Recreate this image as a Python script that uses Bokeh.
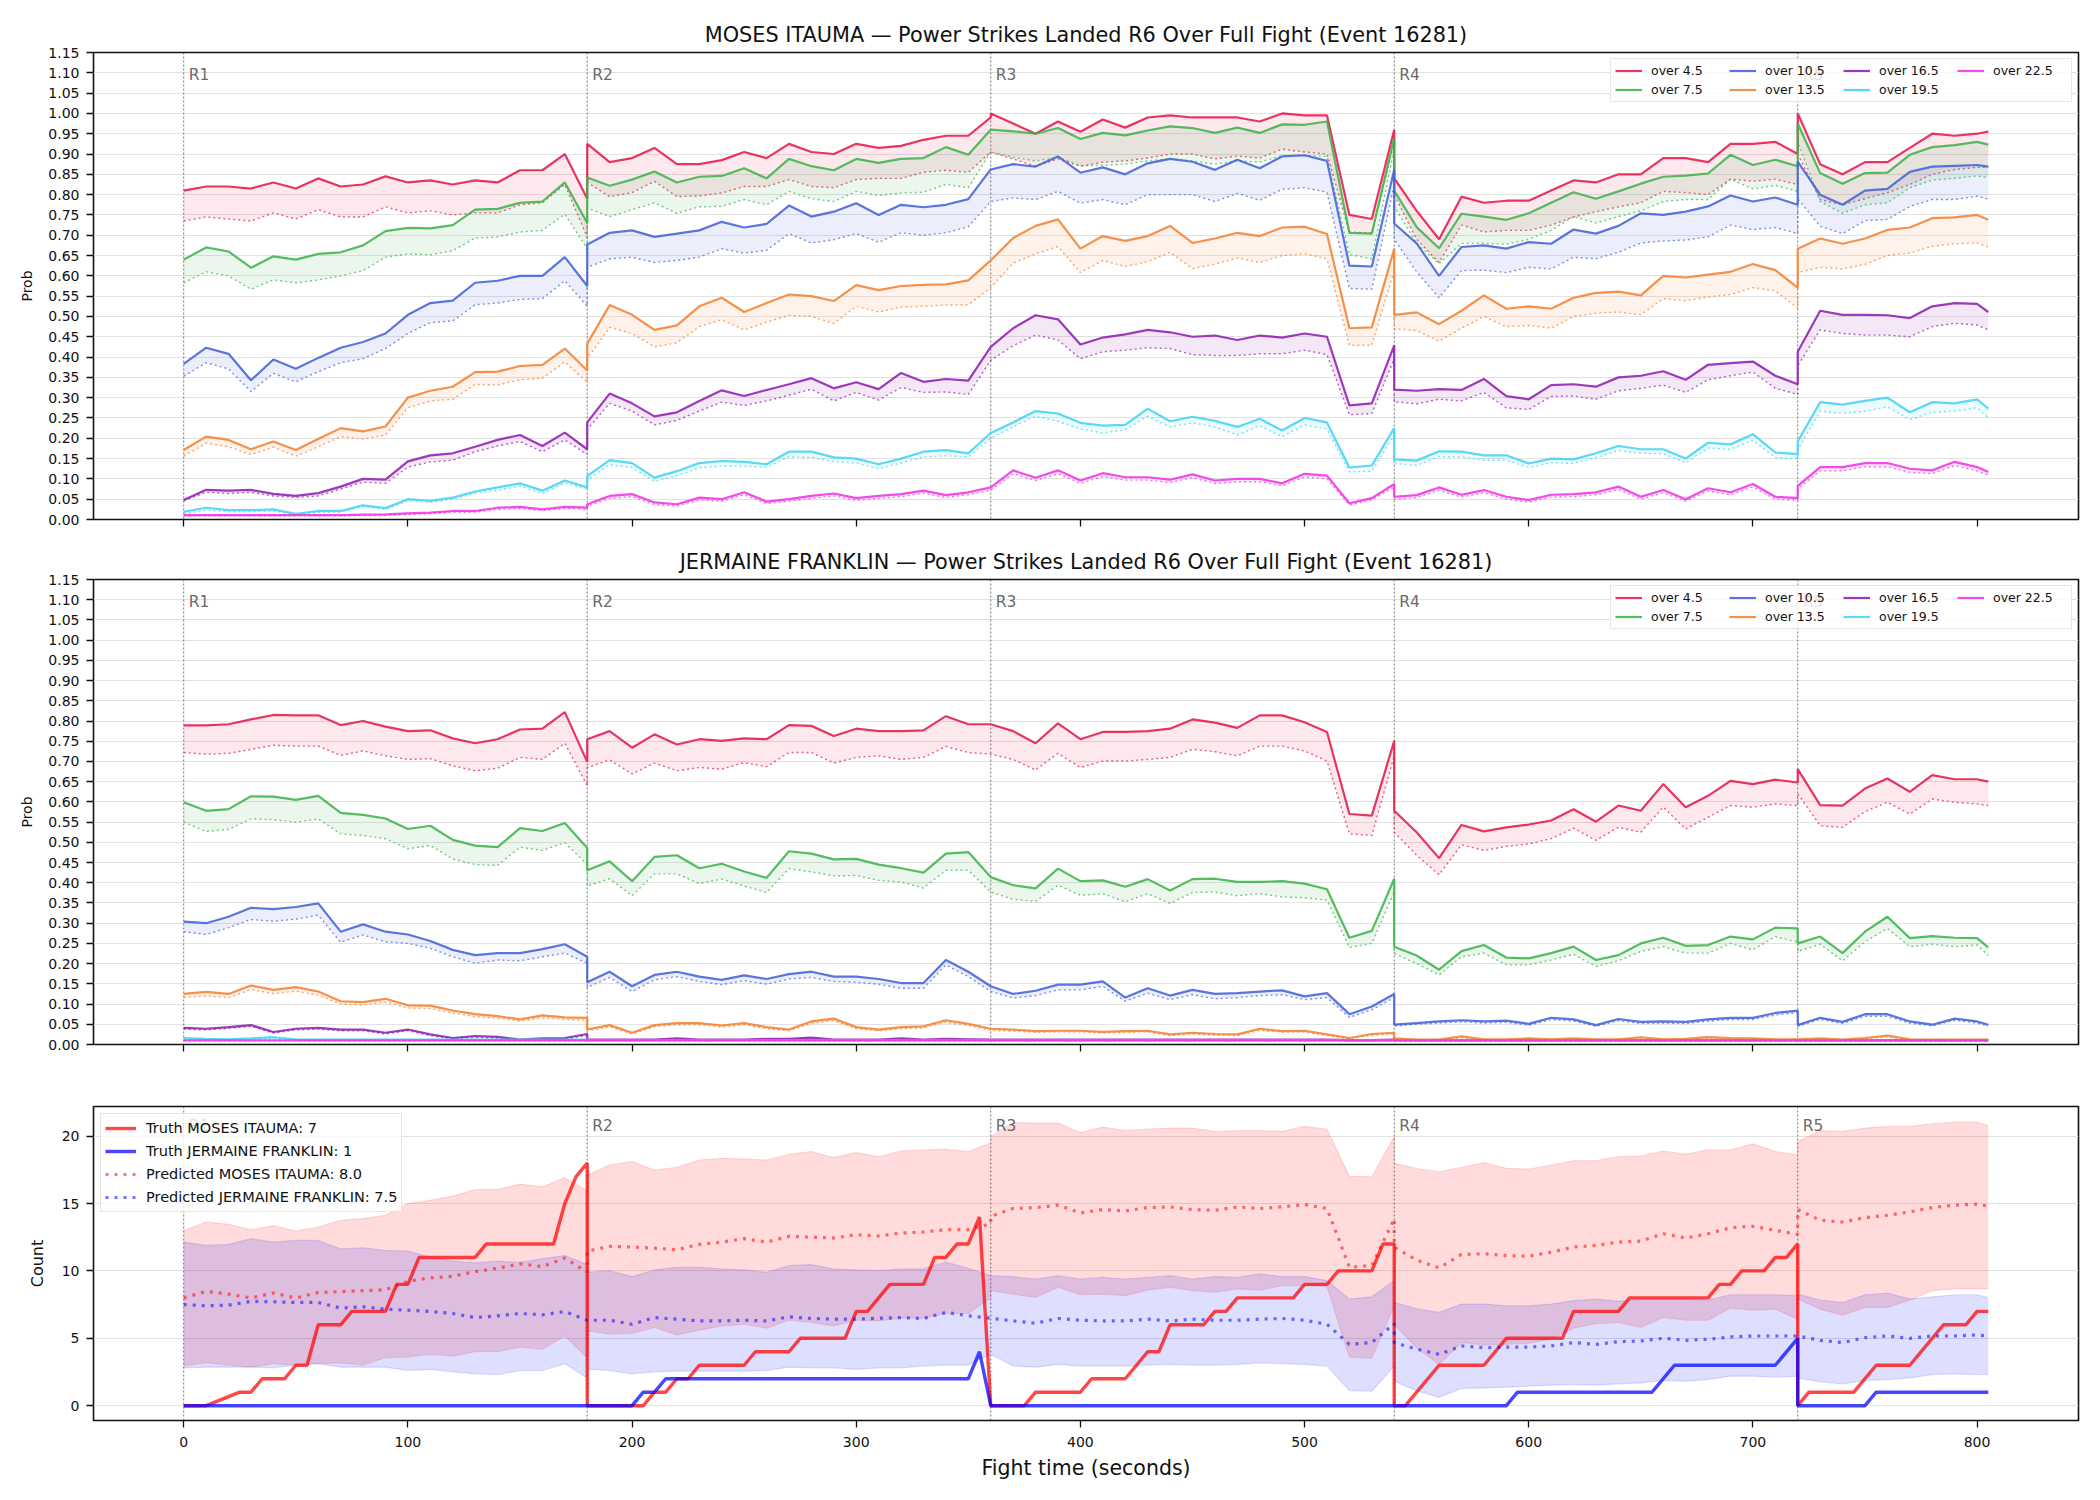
from bokeh.plotting import figure
from bokeh.layouts import column
from bokeh.models import (Range1d, FixedTicker, NumeralTickFormatter, Span, Label,
                          Legend, LegendItem)
from bokeh.embed import file_html
from bokeh.resources import INLINE

FONT = "DejaVu Sans"

# Sample times in seconds; a round boundary appears twice (end of one round, start of the next)
TIME = [0, 10, 20, 30, 40, 50, 60, 70, 80, 90, 100, 110, 120, 130, 140, 150, 160, 170, 180,
        180, 190, 200, 210, 220, 230, 240, 250, 260, 270, 280, 290, 300, 310, 320, 330, 340, 350, 360,
        360, 370, 380, 390, 400, 410, 420, 430, 440, 450, 460, 470, 480, 490, 500, 510, 520, 530, 540,
        540, 550, 560, 570, 580, 590, 600, 610, 620, 630, 640, 650, 660, 670, 680, 690, 700, 710, 720,
        720, 730, 740, 750, 760, 770, 780, 790, 800, 805]

ROUND_STARTS = [0, 180, 360, 540, 720]
ROUND_NAMES = ["R1", "R2", "R3", "R4", "R5"]
THRESHOLDS = ["over 4.5", "over 7.5", "over 10.5", "over 13.5", "over 16.5", "over 19.5", "over 22.5"]
COLORS = ["#e6194b", "#3cb44b", "#4363d8", "#f58231", "#911eb4", "#42d4f4", "#f032e6"]
TIME_TICKS = [0, 100, 200, 300, 400, 500, 600, 700, 800]
PROB_TICKS = [0.00, 0.05, 0.10, 0.15, 0.20, 0.25, 0.30, 0.35, 0.40, 0.45, 0.50, 0.55,
              0.60, 0.65, 0.70, 0.75, 0.80, 0.85, 0.90, 0.95, 1.00, 1.05, 1.10, 1.15]
COUNT_TICKS = [0, 5, 10, 15, 20]

# ---------------- MOSES ITAUMA: live (solid) and pre-fight (dotted) probabilities ----------------
ita_45 = [.81, .82, .82, .815, .83, .815, .84, .82, .825, .845, .83, .835, .825, .835, .83, .86, .86, .90, .79,
          .925, .88, .89, .915, .875, .875, .885, .905, .89, .925, .905, .90, .925, .915, .92, .935, .945, .945, .99,
          1.0, .975, .95, .98, .955, .985, .965, .99, .995, .99, .99, .99, .98, 1.0, .995, .995, .75, .74, .96,
          .84, .76, .69, .795, .78, .785, .785, .81, .835, .83, .85, .85, .89, .89, .88, .925, .925, .93, .90,
          1.0, .875, .85, .88, .88, .915, .95, .945, .95, .955]
ita_45p = [.735, .745, .74, .735, .755, .74, .763, .745, .745, .77, .755, .76, .75, .755, .755, .775, .78, .825, .695,
           .83, .795, .805, .833, .795, .797, .804, .82, .82, .837, .82, .817, .837, .84, .84, .855, .86, .855, .905,
           .905, .888, .87, .888, .87, .88, .883, .89, .90, .90, .888, .895, .89, .912, .905, .90, .708, .705, .93,
           .80, .69, .633, .725, .708, .712, .712, .725, .745, .758, .77, .78, .808, .805, .80, .838, .833, .838, .825,
           .90, .788, .775, .79, .805, .825, .85, .862, .867, .867]
ita_75 = [.64, .67, .66, .62, .648, .64, .654, .658, .675, .71, .718, .717, .725, .763, .765, .78, .783, .83, .73,
          .842, .822, .837, .857, .83, .844, .846, .865, .84, .888, .87, .86, .888, .878, .888, .89, .917, .898, .96,
          .96, .956, .95, .964, .937, .952, .946, .958, .968, .964, .952, .965, .952, .973, .972, .98, .706, .704, .94,
          .81, .72, .668, .753, .746, .738, .754, .78, .806, .79, .808, .827, .844, .847, .852, .898, .873, .886, .87,
          .975, .853, .827, .853, .854, .898, .917, .922, .93, .923]
ita_75p = [.583, .61, .60, .567, .59, .583, .59, .60, .613, .646, .654, .652, .662, .693, .696, .708, .712, .752, .667,
           .767, .746, .763, .78, .754, .77, .771, .788, .775, .808, .79, .783, .808, .798, .804, .806, .825, .817, .905,
           .905, .892, .883, .892, .871, .872, .875, .883, .888, .883, .875, .883, .88, .896, .896, .894, .652, .642, .912,
           .77, .68, .63, .68, .68, .678, .69, .712, .746, .73, .746, .76, .783, .788, .788, .838, .814, .823, .808,
           .93, .783, .754, .775, .78, .817, .836, .84, .846, .842]
ita_105 = [.383, .423, .408, .343, .394, .371, .398, .423, .437, .458, .504, .533, .539, .583, .588, .60, .60, .646, .575,
           .677, .706, .712, .696, .704, .712, .733, .719, .728, .773, .746, .758, .779, .75, .775, .769, .775, .789, .862,
           .862, .875, .869, .894, .854, .867, .85, .877, .888, .881, .861, .886, .865, .894, .897, .883, .625, .623, .862,
           .729, .68, .60, .671, .675, .667, .683, .679, .714, .704, .723, .754, .75, .758, .771, .798, .783, .793, .775,
           .881, .80, .775, .81, .814, .856, .869, .871, .873, .869]
ita_105p = [.353, .386, .371, .315, .36, .339, .364, .386, .396, .421, .458, .485, .489, .529, .533, .542, .544, .588, .525,
            .621, .642, .646, .633, .638, .646, .667, .656, .663, .704, .681, .689, .704, .683, .706, .70, .706, .721, .783,
            .783, .792, .788, .808, .779, .788, .775, .80, .80, .80, .783, .803, .786, .813, .817, .806, .569, .567, .825,
            .69, .61, .546, .613, .614, .608, .621, .617, .646, .642, .658, .681, .686, .688, .696, .725, .714, .719, .704,
            .79, .722, .704, .736, .739, .771, .788, .788, .796, .789]
ita_135 = [.171, .204, .196, .173, .192, .171, .198, .225, .217, .229, .30, .317, .327, .363, .364, .378, .381, .421, .367,
           .433, .528, .504, .467, .478, .525, .546, .511, .533, .554, .55, .538, .577, .565, .575, .578, .579, .589, .638,
           .638, .693, .723, .739, .667, .698, .686, .698, .723, .681, .692, .706, .698, .719, .721, .703, .471, .473, .667,
           .504, .51, .481, .514, .552, .519, .525, .519, .546, .558, .561, .552, .60, .596, .603, .61, .629, .614, .571,
           .667, .692, .679, .692, .713, .719, .742, .744, .75, .738]
ita_135p = [.156, .188, .179, .16, .178, .156, .179, .204, .198, .208, .275, .292, .296, .333, .331, .344, .348, .388, .338,
            .396, .473, .458, .425, .435, .475, .492, .467, .486, .503, .50, .483, .525, .511, .523, .525, .528, .529, .571,
            .571, .631, .654, .672, .608, .638, .623, .635, .658, .618, .629, .644, .633, .65, .654, .642, .429, .429, .613,
            .47, .465, .439, .471, .50, .475, .478, .471, .50, .508, .511, .504, .544, .539, .548, .554, .571, .563, .521,
            .608, .621, .617, .628, .65, .656, .673, .679, .681, .671]
ita_165 = [.048, .073, .071, .073, .063, .058, .065, .081, .10, .098, .143, .158, .163, .179, .196, .208, .181, .214, .173,
           .239, .31, .286, .254, .264, .292, .318, .304, .319, .333, .348, .323, .338, .321, .361, .339, .346, .342, .425,
           .425, .471, .503, .493, .431, .448, .456, .467, .461, .45, .453, .442, .453, .448, .458, .45, .281, .286, .429,
           .32, .317, .321, .319, .346, .304, .296, .331, .333, .327, .35, .354, .365, .344, .381, .385, .389, .354, .333,
           .413, .514, .504, .504, .503, .496, .525, .533, .531, .511]
ita_165p = [.046, .067, .064, .067, .058, .054, .058, .075, .092, .089, .129, .142, .146, .167, .181, .192, .167, .196, .16,
            .222, .286, .267, .233, .244, .267, .289, .281, .292, .306, .321, .292, .313, .294, .325, .313, .314, .308, .392,
            .392, .428, .454, .442, .396, .413, .417, .423, .421, .406, .404, .404, .408, .408, .417, .406, .258, .261, .396,
            .29, .285, .296, .292, .313, .275, .271, .303, .304, .296, .317, .323, .331, .313, .344, .354, .363, .323, .308,
            .379, .467, .458, .454, .454, .45, .475, .483, .479, .467]
ita_195 = [.019, .029, .023, .023, .025, .014, .021, .021, .035, .028, .05, .046, .054, .069, .079, .089, .071, .096, .079,
           .107, .146, .139, .103, .119, .139, .144, .142, .136, .167, .167, .153, .15, .136, .15, .167, .171, .163, .213,
           .213, .239, .267, .261, .238, .231, .233, .273, .242, .253, .243, .228, .248, .219, .25, .239, .128, .133, .225,
           .148, .145, .168, .167, .158, .158, .138, .15, .148, .163, .181, .173, .173, .15, .189, .185, .21, .165, .161,
           .192, .289, .283, .292, .30, .264, .289, .286, .296, .273]
ita_195p = [.014, .023, .019, .019, .021, .0125, .018, .018, .032, .025, .046, .042, .05, .064, .072, .082, .064, .09, .075,
            .098, .135, .128, .094, .108, .127, .132, .131, .129, .154, .153, .142, .139, .125, .139, .154, .157, .154, .20,
            .20, .228, .254, .242, .223, .213, .221, .254, .228, .238, .228, .208, .231, .204, .233, .223, .117, .119, .208,
            .138, .133, .155, .154, .146, .146, .128, .14, .138, .152, .17, .163, .162, .14, .176, .173, .195, .152, .15,
            .171, .267, .261, .267, .277, .246, .264, .267, .275, .25]
ita_225 = [.011, .011, .011, .011, .011, .011, .011, .011, .012, .0125, .015, .017, .021, .021, .029, .031, .025, .031, .029,
           .0375, .058, .0625, .042, .0375, .054, .05, .067, .044, .05, .058, .064, .0525, .058, .0625, .071, .06, .067, .079,
           .079, .121, .103, .121, .096, .114, .104, .104, .098, .111, .096, .10, .10, .089, .1125, .108, .04, .0525, .0875,
           .056, .06, .079, .061, .0725, .056, .048, .061, .0625, .067, .081, .056, .0725, .05, .077, .067, .0875, .056, .0525,
           .083, .129, .129, .139, .139, .125, .121, .142, .129, .117]
ita_225p = [.009, .009, .009, .009, .009, .009, .009, .009, .01, .01, .012, .014, .018, .018, .025, .027, .022, .027, .025,
            .033, .052, .056, .037, .033, .048, .045, .061, .039, .045, .052, .058, .047, .052, .056, .065, .054, .061, .072,
            .072, .113, .096, .113, .089, .106, .097, .097, .091, .103, .089, .093, .093, .083, .105, .10, .036, .048, .08,
            .05, .054, .072, .055, .066, .05, .043, .055, .056, .061, .074, .05, .066, .045, .07, .061, .08, .05, .047,
            .076, .12, .12, .13, .13, .116, .113, .133, .12, .109]

# ---------------- JERMAINE FRANKLIN: live (solid) and pre-fight (dotted) probabilities ----------------
fra_45 = [.789, .789, .792, .804, .815, .814, .814, .79, .80, .786, .775, .777, .757, .745, .755, .779, .781, .822, .699,
          .755, .775, .734, .767, .742, .755, .751, .757, .755, .79, .788, .763, .781, .775, .775, .777, .812, .792, .792,
          .792, .775, .745, .794, .755, .773, .773, .775, .781, .804, .796, .783, .814, .814, .797, .773, .57, .566, .751,
          .578, .525, .461, .543, .527, .537, .544, .554, .582, .551, .591, .578, .644, .587, .615, .652, .644, .655, .648,
          .681, .592, .591, .633, .658, .625, .666, .656, .656, .65]
fra_45p = [.722, .718, .72, .73, .74, .738, .738, .715, .726, .714, .705, .707, .689, .677, .683, .71, .705, .745, .64,
           .685, .704, .669, .696, .677, .685, .681, .697, .687, .722, .722, .696, .71, .714, .705, .71, .737, .722, .718,
           .718, .705, .679, .72, .685, .701, .701, .705, .71, .73, .724, .714, .738, .738, .726, .701, .521, .517, .714,
           .525, .468, .42, .494, .48, .49, .496, .509, .535, .505, .537, .525, .587, .533, .562, .591, .587, .595, .591,
           .62, .541, .537, .576, .599, .57, .607, .599, .595, .591]
fra_75 = [.599, .578, .582, .614, .613, .605, .615, .573, .568, .559, .533, .541, .506, .492, .488, .535, .528, .548, .486,
          .431, .453, .404, .464, .468, .436, .447, .428, .412, .478, .472, .458, .459, .445, .436, .425, .472, .476, .414,
          .414, .394, .386, .435, .404, .406, .39, .409, .381, .409, .41, .402, .402, .404, .398, .384, .264, .281, .41,
          .242, .22, .185, .231, .246, .215, .213, .226, .242, .209, .221, .25, .264, .244, .246, .267, .26, .289, .287,
          .25, .267, .226, .279, .316, .263, .268, .264, .263, .24]
fra_75p = [.55, .527, .532, .558, .556, .55, .558, .521, .517, .509, .484, .492, .459, .445, .443, .488, .48, .499, .445,
           .392, .41, .368, .422, .422, .398, .409, .392, .376, .435, .427, .417, .418, .406, .402, .387, .431, .431, .377,
           .377, .359, .354, .394, .369, .373, .353, .373, .349, .376, .377, .368, .373, .365, .363, .357, .24, .25, .377,
           .225, .2, .172, .217, .226, .197, .197, .209, .223, .193, .207, .23, .242, .226, .226, .25, .234, .267, .253,
           .23, .248, .207, .254, .287, .242, .248, .242, .246, .22]
fra_105 = [.304, .30, .316, .338, .335, .34, .349, .279, .297, .279, .272, .256, .234, .221, .226, .226, .236, .248, .217,
           .154, .18, .144, .172, .18, .168, .16, .171, .162, .174, .18, .168, .168, .162, .152, .152, .209, .18, .144,
           .144, .125, .133, .148, .148, .156, .116, .139, .121, .135, .125, .127, .131, .134, .119, .127, .075, .094, .125,
           .049, .053, .057, .06, .057, .059, .051, .066, .062, .048, .063, .056, .057, .056, .062, .066, .066, .078, .084,
           .048, .066, .056, .075, .075, .057, .049, .064, .057, .049]
fra_105p = [.279, .272, .289, .309, .305, .31, .32, .253, .271, .254, .25, .238, .217, .201, .209, .207, .217, .226, .201,
            .141, .166, .131, .16, .168, .156, .148, .158, .149, .162, .166, .156, .154, .149, .139, .139, .197, .168, .131,
            .131, .115, .121, .135, .135, .144, .107, .127, .111, .123, .113, .116, .121, .123, .111, .116, .067, .086, .116,
            .046, .05, .053, .056, .053, .055, .047, .062, .058, .045, .059, .052, .053, .052, .058, .062, .062, .073, .079,
            .045, .062, .052, .07, .07, .053, .046, .06, .053, .046]
fra_135 = [.125, .13, .125, .146, .135, .142, .131, .107, .105, .113, .097, .096, .084, .075, .07, .062, .072, .067, .066,
           .037, .048, .029, .048, .053, .053, .047, .053, .043, .037, .057, .064, .043, .037, .043, .045, .06, .051, .039,
           .039, .037, .033, .034, .034, .031, .033, .034, .025, .029, .026, .025, .039, .033, .034, .025, .016, .026, .029,
           .015, .012, .012, .02, .013, .013, .015, .013, .015, .013, .013, .018, .013, .014, .018, .016, .015, .013, .013,
           .013, .015, .012, .016, .022, .013, .012, .012, .012, .012]
fra_135p = [.117, .12, .116, .136, .126, .132, .122, .10, .098, .106, .09, .089, .078, .069, .065, .058, .066, .062, .06,
            .033, .044, .026, .044, .049, .049, .043, .049, .039, .034, .052, .059, .039, .034, .039, .041, .055, .047, .035,
            .035, .033, .03, .031, .031, .028, .03, .031, .022, .026, .023, .022, .035, .03, .031, .022, .014, .023, .026,
            .013, .011, .011, .017, .011, .011, .013, .011, .013, .011, .011, .016, .011, .012, .016, .014, .013, .011, .011,
            .011, .013, .011, .014, .019, .011, .011, .011, .011, .011]
fra_165 = [.041, .039, .043, .048, .031, .039, .041, .037, .037, .029, .037, .025, .016, .021, .019, .012, .015, .016, .026,
           .012, .012, .012, .012, .015, .012, .012, .012, .014, .014, .017, .012, .012, .012, .015, .012, .014, .013, .012,
           .012, .012, .012, .012, .012, .012, .012, .012, .012, .012, .012, .012, .012, .012, .012, .012, .011, .011, .012,
           .011, .011, .011, .011, .011, .011, .011, .011, .011, .011, .011, .011, .011, .011, .011, .011, .011, .011, .011,
           .011, .011, .011, .011, .011, .011, .011, .011, .011, .011]
fra_165p = [.038, .036, .040, .045, .028, .036, .038, .034, .034, .026, .034, .022, .014, .018, .016, .010, .013, .014, .022,
            .010, .010, .010, .010, .013, .010, .010, .010, .012, .012, .014, .010, .010, .010, .012, .010, .012, .011, .010,
            .010, .010, .010, .010, .010, .010, .010, .010, .010, .010, .010, .010, .010, .010, .010, .010, .010, .010, .010,
            .009, .009, .009, .009, .009, .009, .009, .009, .009, .009, .009, .009, .009, .009, .009, .009, .009, .009, .009,
            .009, .009, .009, .009, .009, .009, .009, .009, .009, .009]
fra_195 = [.016, .014, .013, .015, .018, .013, .012, .012, .012, .012, .012, .012, .012, .012, .012, .012, .012, .012, .012,
           .011, .011, .011, .011, .011, .011, .011, .011, .011, .011, .011, .011, .011, .011, .011, .011, .011, .011, .011,
           .011, .011, .011, .011, .011, .011, .011, .011, .011, .011, .011, .011, .011, .011, .011, .011, .011, .011, .011,
           .011, .011, .011, .011, .011, .011, .011, .011, .011, .011, .011, .011, .011, .011, .011, .011, .011, .011, .011,
           .011, .011, .011, .011, .011, .011, .011, .011, .011, .011]
fra_195p = [.014, .012, .011, .013, .016, .011, .010, .010, .010, .010, .010, .010, .010, .010, .010, .010, .010, .010, .010,
            .010, .010, .010, .010, .010, .010, .010, .010, .010, .010, .010, .010, .010, .010, .010, .010, .010, .010, .010,
            .010, .010, .010, .010, .010, .010, .010, .010, .010, .010, .010, .010, .010, .010, .010, .010, .010, .010, .010,
            .010, .010, .010, .010, .010, .010, .010, .010, .010, .010, .010, .010, .010, .010, .010, .010, .010, .010, .010,
            .010, .010, .010, .010, .010, .010, .010, .010, .010, .010]
fra_225 = [.010, .010, .010, .010, .010, .010, .010, .010, .010, .010, .010, .010, .010, .010, .010, .010, .010, .010, .010,
           .010, .010, .010, .010, .010, .010, .010, .010, .010, .010, .010, .010, .010, .010, .010, .010, .010, .010, .010,
           .010, .010, .010, .010, .010, .010, .010, .010, .010, .010, .010, .010, .010, .010, .010, .010, .010, .010, .010,
           .010, .010, .010, .010, .010, .010, .010, .010, .010, .010, .010, .010, .010, .010, .010, .010, .010, .010, .010,
           .010, .010, .010, .010, .010, .010, .010, .010, .010, .010]
fra_225p = [.009, .009, .009, .009, .009, .009, .009, .009, .009, .009, .009, .009, .009, .009, .009, .009, .009, .009, .009,
            .009, .009, .009, .009, .009, .009, .009, .009, .009, .009, .009, .009, .009, .009, .009, .009, .009, .009, .009,
            .009, .009, .009, .009, .009, .009, .009, .009, .009, .009, .009, .009, .009, .009, .009, .009, .009, .009, .009,
            .009, .009, .009, .009, .009, .009, .009, .009, .009, .009, .009, .009, .009, .009, .009, .009, .009, .009, .009,
            .009, .009, .009, .009, .009, .009, .009, .009, .009, .009]

# ---------------- Cumulative power strikes: truth, prediction and band ----------------
truth_ita_t = [0, 10, 25, 30, 35, 45, 50, 55, 60, 70, 75, 90, 95, 100, 105, 130, 135, 165, 170, 175, 180,
               180, 205, 210, 215, 220, 225, 230, 250, 255, 270, 275, 295, 300, 305, 315, 330, 335, 340, 345, 350, 355, 360,
               360, 375, 380, 400, 405, 420, 430, 435, 440, 455, 460, 465, 470, 495, 500, 510, 515, 530, 535, 540,
               540, 545, 560, 580, 590, 615, 620, 640, 645, 680, 685, 690, 695, 705, 710, 715, 720,
               720, 725, 745, 755, 770, 785, 795, 800, 805]
truth_ita_v = [0, 0, 1, 1, 2, 2, 3, 3, 6, 6, 7, 7, 9, 9, 11, 11, 12, 12, 15, 17, 18,
               0, 0, 1, 1, 2, 2, 3, 3, 4, 4, 5, 5, 7, 7, 9, 9, 11, 11, 12, 12, 14, 0,
               0, 0, 1, 1, 2, 2, 4, 4, 6, 6, 7, 7, 8, 8, 9, 9, 10, 10, 12, 12,
               0, 0, 3, 3, 5, 5, 7, 7, 8, 8, 9, 9, 10, 10, 11, 11, 12,
               0, 1, 1, 3, 3, 6, 6, 7, 7]
truth_fra_t = [0, 180, 180, 200, 205, 210, 215, 350, 355, 360, 360, 540,
               540, 590, 595, 655, 665, 710, 720, 720, 750, 755, 805]
truth_fra_v = [0, 0, 0, 0, 1, 1, 2, 2, 4, 0, 0, 0,
               0, 0, 1, 1, 3, 3, 5, 0, 0, 1, 1]

pred_ita = [8.0, 8.48, 8.28, 7.99, 8.36, 7.99, 8.4, 8.46, 8.53, 8.6, 9.23, 9.48, 9.6, 9.95, 10.2, 10.52, 10.32, 10.95, 9.9,
            11.47, 11.82, 11.77, 11.69, 11.57, 11.97, 12.14, 12.39, 12.14, 12.56, 12.51, 12.44, 12.69, 12.59, 12.81, 12.89, 13.06, 13.06, 13.5,
            14.05, 14.63, 14.7, 14.88, 14.3, 14.55, 14.45, 14.7, 14.75, 14.55, 14.5, 14.75, 14.63, 14.75, 14.93, 14.63, 10.27, 10.4, 13.88,
            11.77, 10.8, 10.22, 11.22, 11.27, 11.14, 11.09, 11.39, 11.77, 11.89, 12.14, 12.21, 12.76, 12.44, 12.76, 13.21, 13.31, 13.01, 12.71,
            14.55, 13.76, 13.63, 13.96, 14.13, 14.38, 14.7, 14.88, 14.95, 14.8]
pred_fra = [7.5, 7.41, 7.46, 7.74, 7.71, 7.66, 7.66, 7.24, 7.34, 7.16, 7.09, 6.99, 6.84, 6.54, 6.67, 6.84, 6.74, 6.99, 6.34,
            6.34, 6.34, 6.04, 6.54, 6.42, 6.29, 6.29, 6.34, 6.29, 6.59, 6.47, 6.42, 6.42, 6.49, 6.54, 6.47, 6.92, 6.67, 6.49,
            6.49, 6.29, 6.12, 6.47, 6.34, 6.29, 6.29, 6.42, 6.29, 6.42, 6.34, 6.34, 6.42, 6.47, 6.34, 6.04, 4.55, 4.68, 6.09,
            4.68, 4.2, 3.81, 4.43, 4.3, 4.35, 4.35, 4.43, 4.68, 4.55, 4.75, 4.8, 5.0, 4.85, 4.93, 5.1, 5.17, 5.17, 5.17,
            5.17, 4.85, 4.68, 5.05, 5.17, 5.0, 5.17, 5.17, 5.25, 5.17]
band_ita_hi = [13.0, 13.63, 13.46, 13.06, 13.36, 12.96, 13.26, 13.76, 13.88, 14.13, 15.0, 15.25, 15.55, 16.04, 16.04, 16.44, 16.24, 16.92, 15.95,
               17.11, 17.86, 18.11, 17.49, 17.69, 18.23, 18.36, 18.31, 18.23, 18.66, 18.86, 18.41, 18.78, 18.48, 18.9, 18.98, 19.03, 18.86, 19.5,
               19.98, 21.02, 20.97, 20.97, 20.27, 20.67, 20.42, 20.52, 20.6, 20.6, 20.35, 20.42, 20.42, 20.35, 20.72, 20.52, 17.04, 16.99, 19.98,
               17.98, 17.6, 17.36, 17.69, 18.03, 17.61, 17.56, 17.86, 18.18, 18.18, 18.48, 18.53, 18.9, 18.66, 18.98, 18.98, 19.43, 18.86, 18.61,
               19.6, 20.42, 20.35, 20.6, 20.72, 20.72, 20.92, 21.04, 21.04, 20.77]
band_ita_lo = [2.94, 3.18, 3.01, 2.86, 3.11, 3.01, 3.11, 3.18, 3.01, 3.56, 3.61, 3.81, 3.68, 4.0, 4.0, 4.35, 4.18, 5.17, 3.56,
               5.55, 5.3, 5.37, 5.8, 5.25, 5.6, 5.92, 6.04, 5.75, 6.34, 6.17, 5.92, 6.34, 6.29, 6.49, 6.49, 6.84, 6.84, 8.0,
               8.53, 8.28, 8.03, 8.78, 8.23, 8.28, 8.16, 8.58, 8.78, 8.53, 8.41, 8.66, 8.58, 8.9, 8.9, 8.83, 3.61, 3.51, 7.41,
               6.04, 4.3, 3.06, 4.68, 4.5, 4.55, 4.63, 4.93, 5.75, 6.09, 6.17, 5.8, 6.54, 6.34, 6.34, 7.24, 7.09, 7.16, 6.42,
               7.91, 7.16, 6.72, 7.29, 7.29, 7.84, 8.53, 8.66, 8.66, 8.66]
band_fra_hi = [12.14, 11.89, 11.97, 12.39, 12.14, 12.26, 12.26, 11.64, 11.72, 11.52, 11.47, 11.02, 10.72, 10.6, 10.72, 10.65, 10.9, 11.14, 10.47,
               9.9, 10.02, 9.58, 10.07, 10.27, 10.27, 10.15, 10.07, 9.9, 10.4, 10.47, 10.15, 10.07, 10.02, 10.15, 10.15, 10.65, 10.2, 9.65,
               9.65, 9.58, 9.4, 9.65, 9.4, 9.53, 9.4, 9.53, 9.65, 9.4, 9.58, 9.53, 9.78, 9.58, 9.58, 9.28, 7.91, 8.08, 9.28,
               7.66, 7.2, 6.92, 7.54, 7.54, 7.41, 7.41, 7.54, 7.79, 7.91, 7.74, 7.91, 7.91, 7.91, 7.84, 8.23, 8.23, 8.23, 8.16,
               8.28, 7.84, 7.66, 8.23, 8.36, 7.91, 8.08, 8.23, 8.23, 8.03]
band_fra_lo = [2.81, 2.86, 2.86, 2.86, 2.81, 3.01, 3.11, 2.86, 2.86, 2.86, 2.61, 2.69, 2.51, 2.36, 2.31, 2.61, 2.61, 3.11, 2.06,
               2.69, 2.61, 2.36, 2.51, 2.56, 2.56, 2.56, 2.56, 2.61, 2.86, 2.81, 2.81, 2.69, 2.81, 2.81, 2.94, 3.01, 3.01, 3.81,
               3.81, 2.94, 2.86, 3.06, 2.94, 2.94, 2.94, 3.01, 3.06, 3.01, 3.01, 3.06, 3.18, 3.11, 3.06, 2.94, 1.12, 1.07, 2.94,
               1.82, 1.1, 0.62, 1.27, 1.32, 1.37, 1.44, 1.52, 1.57, 1.52, 1.62, 1.69, 1.87, 1.82, 1.94, 2.19, 2.19, 2.11, 2.19,
               2.06, 1.77, 1.62, 1.87, 1.94, 2.06, 2.31, 2.36, 2.31, 2.31]

ITA_LIVE = [ita_45, ita_75, ita_105, ita_135, ita_165, ita_195, ita_225]
ITA_PRE = [ita_45p, ita_75p, ita_105p, ita_135p, ita_165p, ita_195p, ita_225p]
FRA_LIVE = [fra_45, fra_75, fra_105, fra_135, fra_165, fra_195, fra_225]
FRA_PRE = [fra_45p, fra_75p, fra_105p, fra_135p, fra_165p, fra_195p, fra_225p]

for series in ITA_LIVE + ITA_PRE + FRA_LIVE + FRA_PRE + [pred_ita, pred_fra, band_ita_hi, band_ita_lo, band_fra_hi, band_fra_lo]:
    assert len(series) == len(TIME), len(series)

X_RANGE = Range1d(-40.25, 845.25)
FRAME_W = 1985


def base_figure(frame_h, top, bottom, y_range, y_ticks, tick_size, title=None):
    p = figure(frame_width=FRAME_W, frame_height=frame_h, x_range=X_RANGE, y_range=y_range,
               output_backend="svg", toolbar_location=None, title=title,
               min_border_left=93, min_border_right=22, min_border_top=top, min_border_bottom=bottom)
    p.outline_line_color = "#111111"
    p.outline_line_width = 1.6
    p.outline_line_alpha = 1.0
    p.xaxis.ticker = FixedTicker(ticks=TIME_TICKS)
    p.yaxis.ticker = FixedTicker(ticks=y_ticks)
    for ax in (p.xaxis[0], p.yaxis[0]):
        ax.axis_line_color = None
        ax.major_tick_out = 7
        ax.major_tick_in = 0
        ax.major_tick_line_color = "#111111"
        ax.major_tick_line_width = 1.3
        ax.minor_tick_line_color = None
        ax.major_label_text_font = FONT
        ax.major_label_text_font_size = tick_size
        ax.major_label_text_color = "#111111"
        ax.major_label_standoff = 7
        ax.axis_label_text_font = FONT
        ax.axis_label_text_font_style = "normal"
        ax.axis_label_text_color = "#111111"
    p.xgrid.grid_line_color = None
    p.ygrid.grid_line_color = "#e2e2e2"
    p.ygrid.grid_line_width = 1
    if title is not None:
        p.title.text_font = FONT
        p.title.text_font_size = "20.8px"
        p.title.text_font_style = "normal"
        p.title.text_color = "#111111"
        p.title.align = "center"
        p.title.standoff = 12
    return p


def add_rounds(p, label_y):
    for t, name in zip(ROUND_STARTS, ROUND_NAMES):
        p.add_layout(Span(location=t, dimension="height", line_color="#555555", line_alpha=0.8,
                          line_width=1, line_dash="2 2", level="underlay"))
        p.add_layout(Label(x=t, y=label_y, x_offset=5, text=name, text_font=FONT,
                           text_font_size="15.5px", text_color="#555555", text_alpha=0.9,
                           text_baseline="top"))


def hide_x_labels(p):
    p.xaxis.major_label_text_font_size = "1px"
    p.xaxis.major_label_text_color = None
    p.xaxis.major_label_standoff = 0


def prob_panel(title, lives, pres, top, frame_h, bottom):
    y0, y1 = 0.0, 1.15
    p = base_figure(frame_h, top, bottom, Range1d(y0, y1), PROB_TICKS, "14px", title=title)
    p.yaxis.formatter = NumeralTickFormatter(format="0.00")
    p.yaxis.axis_label = "Prob"
    p.yaxis.axis_label_text_font_size = "14px"
    p.yaxis.axis_label_standoff = 10
    hide_x_labels(p)
    add_rounds(p, y1 - 0.028 * (y1 - y0))
    items = []
    for name, c, live, pre in zip(THRESHOLDS, COLORS, lives, pres):
        p.varea(x=TIME, y1=pre, y2=live, fill_color=c, fill_alpha=0.1)
        p.line(TIME, pre, line_color=c, line_width=1.4, line_alpha=0.7, line_dash="2 3")
        r = p.line(TIME, live, line_color=c, line_width=2.2, line_alpha=0.88)
        items.append(LegendItem(label=name, renderers=[r]))
    leg = Legend(items=items, location="top_right", orientation="vertical", nrows=2,
                 label_text_font=FONT, label_text_font_size="12.5px", label_text_color="#111111",
                 glyph_width=27, glyph_height=15, label_height=15, label_width=74,
                 label_standoff=9, spacing=4, padding=4, margin=6,
                 border_line_color="#cccccc", border_line_width=1.2,
                 background_fill_color="white", background_fill_alpha=0.8)
    p.add_layout(leg)
    return p


p1 = prob_panel("MOSES ITAUMA \u2014 Power Strikes Landed R6 Over Full Fight (Event 16281)",
                ITA_LIVE, ITA_PRE, top=52, frame_h=467, bottom=20)
p2 = prob_panel("JERMAINE FRANKLIN \u2014 Power Strikes Landed R6 Over Full Fight (Event 16281)",
                FRA_LIVE, FRA_PRE, top=40, frame_h=465, bottom=22)

# Count panel
c0, c1 = -1.1, 22.2
p3 = base_figure(314, 40, 80, Range1d(c0, c1), COUNT_TICKS, "14px")
p3.yaxis.axis_label = "Count"
p3.yaxis.axis_label_text_font_size = "16px"
p3.yaxis.axis_label_standoff = 12
p3.xaxis.axis_label = "Fight time (seconds)"
p3.xaxis.axis_label_text_font_size = "20.5px"
p3.xaxis.major_label_standoff = 9
p3.xaxis.axis_label_standoff = 6
add_rounds(p3, c1 - 0.035 * (c1 - c0))

p3.varea(x=TIME, y1=band_ita_lo, y2=band_ita_hi, fill_color="red", fill_alpha=0.14)
p3.line(TIME, band_ita_hi, line_color="red", line_alpha=0.12, line_width=1.2)
p3.line(TIME, band_ita_lo, line_color="red", line_alpha=0.12, line_width=1.2)
p3.varea(x=TIME, y1=band_fra_lo, y2=band_fra_hi, fill_color="blue", fill_alpha=0.13)
p3.line(TIME, band_fra_hi, line_color="blue", line_alpha=0.12, line_width=1.2)
p3.line(TIME, band_fra_lo, line_color="blue", line_alpha=0.12, line_width=1.2)

r_tm = p3.line(truth_ita_t, truth_ita_v, line_color="red", line_alpha=0.72, line_width=3.4)
r_tf = p3.line(truth_fra_t, truth_fra_v, line_color="blue", line_alpha=0.72, line_width=3.4)
r_pm = p3.line(TIME, pred_ita, line_color="red", line_alpha=0.55, line_width=3.2, line_dash="3 6")
r_pf = p3.line(TIME, pred_fra, line_color="blue", line_alpha=0.55, line_width=3.2, line_dash="3 6")

leg3 = Legend(items=[
    LegendItem(label=f"Truth MOSES ITAUMA: {truth_ita_v[-1]}", renderers=[r_tm]),
    LegendItem(label=f"Truth JERMAINE FRANKLIN: {truth_fra_v[-1]}", renderers=[r_tf]),
    LegendItem(label=f"Predicted MOSES ITAUMA: {pred_ita[0]:.1f}", renderers=[r_pm]),
    LegendItem(label=f"Predicted JERMAINE FRANKLIN: {pred_fra[0]:.1f}", renderers=[r_pf]),
], location="top_left", orientation="vertical",
    label_text_font=FONT, label_text_font_size="14.5px", label_text_color="#111111",
    glyph_width=31, glyph_height=20, label_height=20, label_standoff=10,
    spacing=3, padding=4, margin=7,
    border_line_color="#cccccc", border_line_width=1.2,
    background_fill_color="white", background_fill_alpha=0.8)
p3.add_layout(leg3)

layout = column(p1, p2, p3, spacing=0)
open("out.html", "w").write(file_html(layout, INLINE))
